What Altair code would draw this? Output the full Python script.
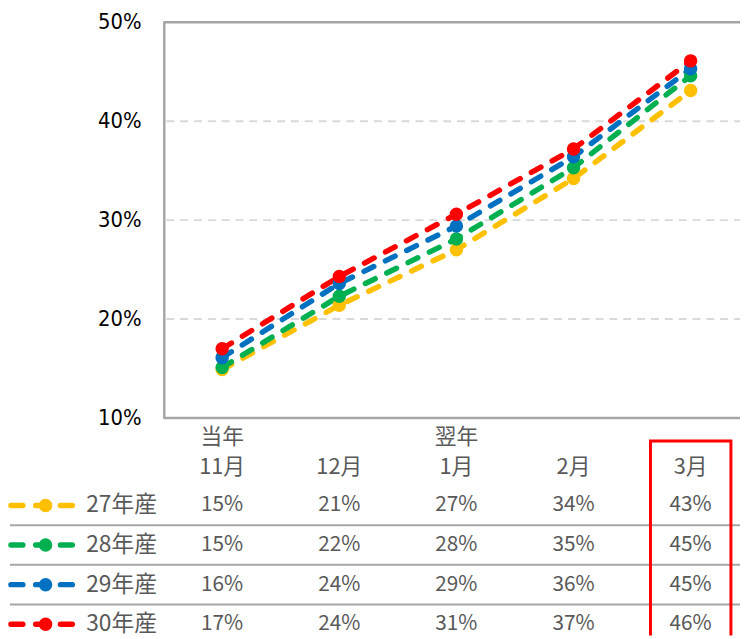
import altair as alt
import pandas as pd

# ---------------- data ----------------
months = ["11月", "12月", "1月", "2月", "3月"]
year_headers = ["当年", "", "翌年", "", ""]
series = ["27年産", "28年産", "29年産", "30年産"]
colors = ["#FFC000", "#00B050", "#0070C0", "#FF0000"]
v27 = [14.9, 21.4, 27.0, 34.2, 43.1]
v28 = [15.1, 22.3, 28.1, 35.3, 44.6]
v29 = [16.1, 23.6, 29.4, 36.4, 45.3]
v30 = [17.0, 24.3, 30.6, 37.2, 46.1]
y_ticks = [10, 20, 30, 40, 50]
grid_ticks = [20, 30, 40]
highlight_month = "3月"

values = [v27, v28, v29, v30]

rows = []
for r, (s, vals) in enumerate(zip(series, values)):
    for i, (m, v) in enumerate(zip(months, vals)):
        rows.append({"series": s, "row": r, "month": m, "i": i, "value": v, "frac": v / 100})
df = pd.DataFrame(rows)

hdr = pd.DataFrame({"i": list(range(len(months))), "month": months, "year": year_headers})
hdr_year = hdr[hdr["year"] != ""]
leg = pd.DataFrame({"series": series, "row": list(range(len(series)))})
seps = pd.DataFrame({"r": [k + 0.5 for k in range(len(series) - 1)]})
ylab = pd.DataFrame({"t": y_ticks, "lab": [f"{t}%" for t in y_ticks]})
grid = pd.DataFrame({"t": grid_ticks})
frame_h = pd.DataFrame({"t": [y_ticks[0], y_ticks[-1]]})
frame_v = pd.DataFrame({"lo": [y_ticks[0]], "hi": [y_ticks[-1]]})
hi = months.index(highlight_month)
hl = pd.DataFrame({"x1": [hi - 0.343], "x2": [hi + 0.344], "r1": [-1.63], "r2": [3.8]})

# ---------------- scales ----------------
xsc = alt.Scale(domain=[0, 4], range=[214.5, 688.1])
ysc = alt.Scale(domain=[10, 50], range=[409, 9])
rsc = alt.Scale(domain=[0, 3], range=[497.5, 617.5])
csc = alt.Scale(domain=series, range=colors)

JP = "Noto Sans CJK JP"
NARROW = "Liberation Sans Narrow, Arial Narrow, DejaVu Sans Condensed, sans-serif"
GRAY_T = "#595959"
GRAY_L = "#a6a6a6"

grid_l = alt.Chart(grid).mark_rule(color="#d9d9d9", strokeWidth=2, strokeDash=[8, 6]).encode(
    y=alt.Y("t:Q", scale=ysc, axis=None), x=alt.value(158), x2=alt.value(740))

frame_left = alt.Chart(frame_v).mark_rule(color=GRAY_L, strokeWidth=2.5).encode(
    x=alt.value(156), y=alt.Y("lo:Q", scale=ysc, axis=None), y2="hi:Q")

frame_tb = alt.Chart(frame_h).mark_rule(color=GRAY_L, strokeWidth=2.5).encode(
    y=alt.Y("t:Q", scale=ysc, axis=None), x=alt.value(155), x2=alt.value(740))

ylabels = alt.Chart(ylab).mark_text(align="right", baseline="middle", font=NARROW,
                                    fontSize=22, color="#000000").encode(
    y=alt.Y("t:Q", scale=ysc, axis=None), x=alt.value(133), text="lab:N")

lines = alt.Chart(df).mark_line(strokeWidth=5.5, strokeDash=[11, 13], strokeCap="round").encode(
    x=alt.X("i:Q", scale=xsc, axis=None),
    y=alt.Y("value:Q", scale=ysc, axis=None),
    color=alt.Color("series:N", scale=csc, legend=None),
    order="i:Q")

points = alt.Chart(df).mark_circle(size=185, opacity=1).encode(
    x=alt.X("i:Q", scale=xsc, axis=None),
    y=alt.Y("value:Q", scale=ysc, axis=None),
    color=alt.Color("series:N", scale=csc, legend=None))

year_txt = alt.Chart(hdr_year).mark_text(font=JP, fontSize=22, color=GRAY_T, baseline="middle").encode(
    x=alt.X("i:Q", scale=xsc, axis=None), y=alt.Y("r:Q", scale=rsc, axis=None), text="year:N"
).transform_calculate(r="-1.725")

month_txt = alt.Chart(hdr).mark_text(font=JP, fontSize=22, color=GRAY_T, baseline="middle").encode(
    x=alt.X("i:Q", scale=xsc, axis=None), y=alt.Y("r:Q", scale=rsc, axis=None), text="month:N"
).transform_calculate(r="-0.975")

sep_l = alt.Chart(seps).mark_rule(color=GRAY_L, strokeWidth=2).encode(
    y=alt.Y("r:Q", scale=rsc, axis=None), x=alt.value(0), x2=alt.value(740))

cells = alt.Chart(df).mark_text(font=JP, fontSize=21, color=GRAY_T, baseline="middle").encode(
    x=alt.X("i:Q", scale=xsc, axis=None),
    y=alt.Y("row:Q", scale=rsc, axis=None),
    text=alt.Text("frac:Q", format=".0%"))

leg_line = alt.Chart(leg).mark_rule(strokeWidth=5.5, strokeDash=[12, 13], strokeCap="round").encode(
    y=alt.Y("row:Q", scale=rsc, axis=None), x=alt.value(1), x2=alt.value(64),
    color=alt.Color("series:N", scale=csc, legend=None))

leg_pt = alt.Chart(leg).mark_circle(size=185, opacity=1).encode(
    y=alt.Y("row:Q", scale=rsc, axis=None), x=alt.value(36),
    color=alt.Color("series:N", scale=csc, legend=None))

leg_txt = alt.Chart(leg).mark_text(font=JP, fontSize=23, color=GRAY_T, align="left", baseline="middle").encode(
    y=alt.Y("row:Q", scale=rsc, axis=None), x=alt.value(77), text="series:N")

hl_rect = alt.Chart(hl).mark_rect(fillOpacity=0, stroke="#FF0000", strokeWidth=3, clip=True).encode(
    x=alt.X("x1:Q", scale=xsc, axis=None), x2="x2:Q",
    y=alt.Y("r1:Q", scale=rsc, axis=None), y2="r2:Q")

chart = alt.layer(
    grid_l, frame_left, frame_tb, ylabels, lines, points,
    year_txt, month_txt, sep_l, cells, leg_line, leg_pt, leg_txt, hl_rect
).resolve_scale(
    x="independent", y="independent"
).properties(
    width=740, height=631,
    autosize=alt.AutoSizeParams(type="fit", contains="padding"),
    padding=0, background="white"
).configure_view(stroke=None)

chart.save("out.html", embed_options={"renderer": "svg", "actions": False})
